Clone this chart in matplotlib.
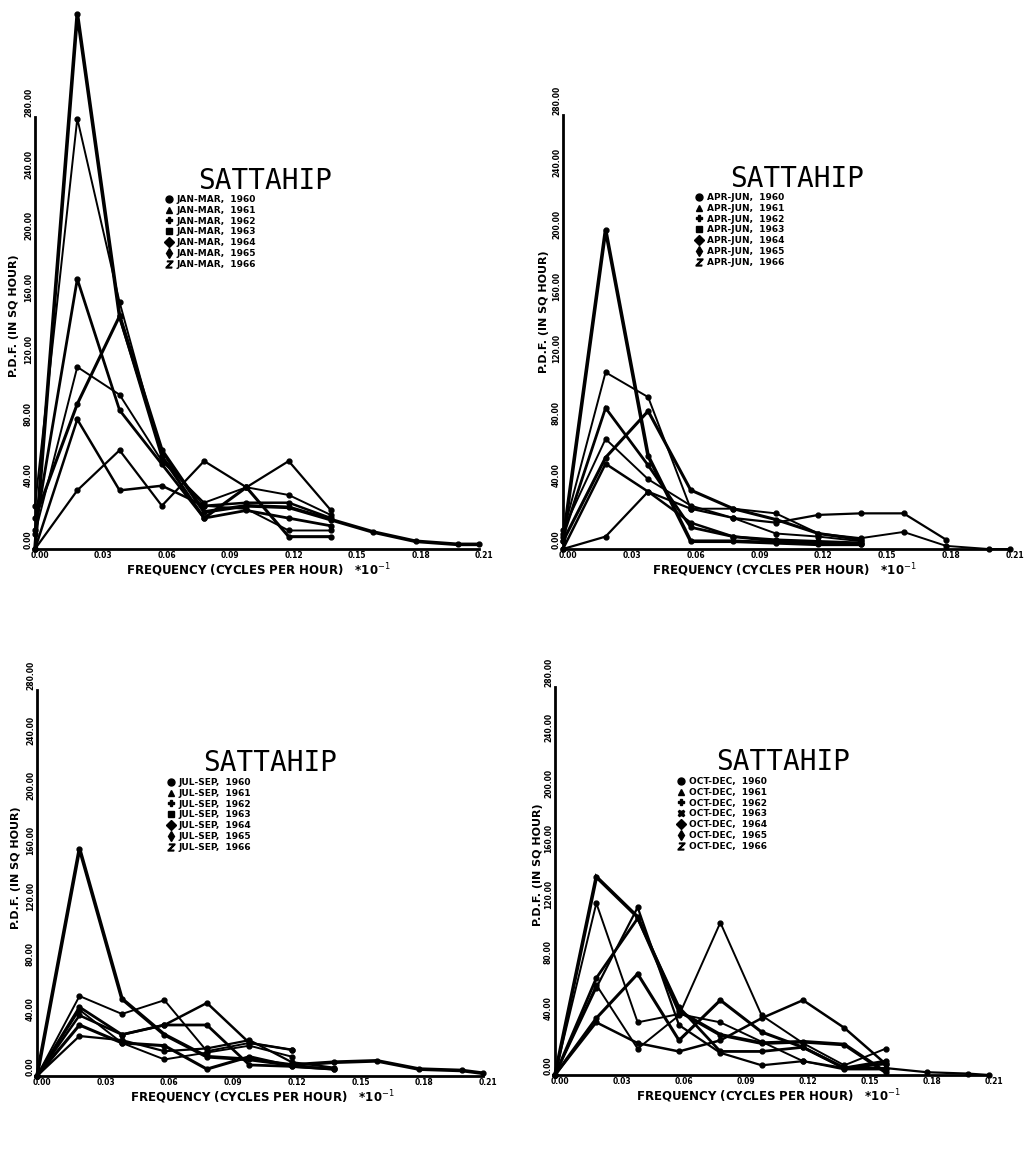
import numpy as np
import matplotlib
matplotlib.use("Agg")
import matplotlib.pyplot as plt
from matplotlib.lines import Line2D
from matplotlib.transforms import ScaledTranslation

nan = np.nan

# frequency points (cycles per hour * 10^-1)
freq = [0.00, 0.02, 0.04, 0.06, 0.08, 0.10, 0.12, 0.14, 0.16, 0.18, 0.20, 0.21]
xticks = [0.00, 0.03, 0.06, 0.09, 0.12, 0.15, 0.18, 0.21]
yticks = [0, 40, 80, 120, 160, 200, 240, 280]
years = [1960, 1961, 1962, 1963, 1964, 1965, 1966]
seasons = ["JAN-MAR", "APR-JUN", "JUL-SEP", "OCT-DEC"]

# spectra, one list per year
jan_mar = [
    [0, 347, 151, 64, 24, 28, 27, 19, 11, 5, 3, 3],
    [28, 279, 160, 60, 28, 26, 12, 12],
    [12, 175, 90, 55, 20, 25, 20, 15],
    [10, 118, 100, 57, 30, 40, 35, 22],
    [20, 94, 151, 60, 20, 40, 8, 8],
    [0, 84, 38, 41, 28, 30, 30, 20],
    [0, 38, 64, 28, 57, 40, 57, 25],
]
apr_jun = [
    [5, 206, 60, 5, 5, 4, 3, 3],
    [10, 114, 98, 26, 26, 23, 10, 7, 11, 2, 0, 0],
    [8, 91, 54, 14, 8, 5, 4, 3],
    [12, 71, 45, 28, 20, 10, 8, 5],
    [5, 59, 89, 38, 26, 19, 10, 6],
    [0, 55, 37, 17, 8, 6, 5, 4],
    [0, 8, 37, 26, 20, 17, 22, 23, 23, 6],
]
jul_sep = [
    [0, 165, 56, 30, 14, 12, 8, 10, 11, 5, 4, 2],
    [0, 58, 45, 55, 18, 24, 19],
    [0, 50, 30, 37, 37, 8, 7, 5],
    [0, 48, 24, 12, 17, 22, 14],
    [0, 37, 24, 22, 5, 14, 7, 5],
    [0, 44, 30, 37, 53, 24, 19],
    [0, 29, 26, 18, 20, 26, 10, 6],
]
oct_dec = [
    [0, 143, 114, 46, 29, 23, 24, 22, 2],
    [0, 124, 38, 44, 38, 24, 10, 4, 4],
    [0, 70, 113, 49, 17, 17, 20, 5, 8],
    [0, 65, 19, 43, 110, 43, 23, 7, 19],
    [0, 41, 73, 25, 54, 31, 20, 5, 10],
    [0, 38, 23, 17, 25, 41, 54, 34, 8],
    [0, 63, 121, 36, 16, 7, 10, 5, 5, 2, 1, 0],
]
all_data = [jan_mar, apr_jun, jul_sep, oct_dec]

markers = ["o", "^", "P", "s", "D", "d", "$Z$"]
markers_oct = ["o", "^", "P", "X", "D", "d", "$Z$"]
widths = [2.6, 1.4, 2.0, 1.4, 2.2, 1.8, 1.6]

W, H = 1029, 1167
fig = plt.figure(figsize=(W / 100, H / 100), dpi=100)

# pixel layout of the four plots: axis left/right, bottom/top,
# title centre, legend corner, x-label centre, y-label centre
panels = [
    dict(l=35, r=479, b=549, t=117, title=(265, 181), leg=(165, 195),
         xl=(258, 570), yl=(14, 316)),
    dict(l=563, r=1010, b=549, t=115, title=(797, 179), leg=(695, 193),
         xl=(784, 570), yl=(544, 312)),
    dict(l=37, r=483, b=1076, t=690, title=(270, 763), leg=(167, 778),
         xl=(262, 1097), yl=(16, 868)),
    dict(l=555, r=989, b=1075, t=687, title=(783, 762), leg=(677, 777),
         xl=(768, 1096), yl=(538, 865)),
]


def fx(x):
    return x / W


def fy(y):
    return 1 - y / H


for p, season, data in zip(panels, seasons, all_data):
    ax = fig.add_axes([fx(p["l"]), fy(p["b"]), (p["r"] - p["l"]) / W,
                       (p["b"] - p["t"]) / H])
    ax.set_xlim(0, 0.21)
    ax.set_ylim(0, 280)
    for s in ["top", "right"]:
        ax.spines[s].set_visible(False)
    ax.spines["left"].set_linewidth(2)
    ax.spines["bottom"].set_linewidth(2)
    ax.patch.set_alpha(0)

    mk = markers_oct if season == "OCT-DEC" else markers
    for vals, m, lw in zip(data, mk, widths):
        v = list(vals) + [nan] * (len(freq) - len(vals))
        ax.plot(freq, v, color="black", lw=lw, marker="o", ms=3.5,
                clip_on=False, solid_joinstyle="miter")

    ax.set_xticks(xticks)
    ax.set_xticklabels([f"{t:.2f}" for t in xticks], fontsize=5.5,
                       fontweight="bold")
    ax.set_yticks(yticks)
    ax.set_yticklabels([f"{t:.2f}" for t in yticks], fontsize=5.5,
                       fontweight="bold", rotation=90, va="bottom")
    ax.tick_params(length=0, pad=1.5)
    off = ScaledTranslation(5 / 100, 0, fig.dpi_scale_trans)
    for lbl in ax.get_xticklabels():
        lbl.set_transform(lbl.get_transform() + off)

    fig.text(fx(p["title"][0]), fy(p["title"][1]), "SATTAHIP",
             family="DejaVu Sans Mono", fontsize=20, ha="center",
             va="center")
    fig.text(fx(p["xl"][0]), fy(p["xl"][1]),
             "FREQUENCY (CYCLES PER HOUR)   *10$^{-1}$", fontsize=8.5,
             fontweight="bold", ha="center", va="center")
    fig.text(fx(p["yl"][0]), fy(p["yl"][1]), "P.D.F. (IN SQ HOUR)",
             fontsize=8, fontweight="bold", rotation=90, ha="center",
             va="center")

    handles = [Line2D([], [], ls="none", marker=m, color="black", ms=5)
               for m in mk]
    labels = [f"{season},  {y}" for y in years]
    fig.legend(handles, labels, loc="upper left",
               bbox_to_anchor=(fx(p["leg"][0]), fy(p["leg"][1])),
               frameon=False, prop=dict(size=6.5, weight="bold"),
               handlelength=0.8, handletextpad=0.5, labelspacing=0.2,
               borderpad=0, borderaxespad=0)

fig.savefig("out.png", dpi=100, facecolor="white")
